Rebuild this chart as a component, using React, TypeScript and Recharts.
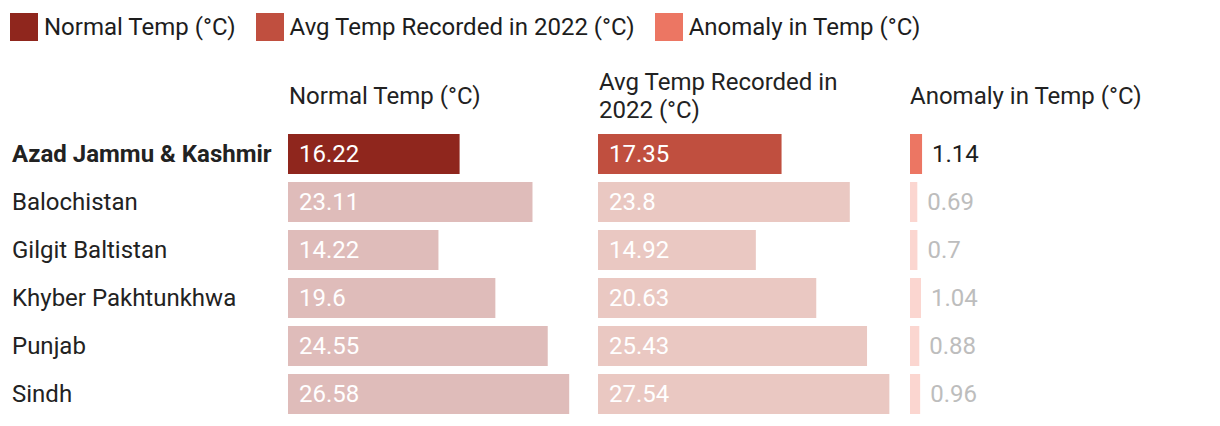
import React from "react";
import { BarChart, Bar, XAxis, YAxis, Cell, LabelList } from "recharts";

// regions, in the order they are listed
const regions = ["Azad Jammu & Kashmir", "Balochistan", "Gilgit Baltistan", "Khyber Pakhtunkhwa", "Punjab", "Sindh"];
const normalTemp = [16.22, 23.11, 14.22, 19.6, 24.55, 26.58];
const avgTemp2022 = [17.35, 23.8, 14.92, 20.63, 25.43, 27.54];
const anomalyTemp = [1.14, 0.69, 0.7, 1.04, 0.88, 0.96];
const highlighted = "Azad Jammu & Kashmir";

const seriesNames = ["Normal Temp (°C)", "Avg Temp Recorded in 2022 (°C)", "Anomaly in Temp (°C)"];
const strongColors = ["#8f261d", "#c04f3f", "#ec7663"];
const fadedColors = ["#dfbcba", "#eac8c2", "#fbd6d0"];

const FONT = "Roboto, 'Noto Sans', sans-serif";
const FS = 24;
const DOMAIN_MAX = 27.6;
const ROW_H = 48;
const TOP = 130;

const data = regions.map((name, i) => ({
  name,
  normal: normalTemp[i],
  avg: avgTemp2022[i],
  anomaly: anomalyTemp[i],
}));

const isHl = (i: number) => data[i] && data[i].name === highlighted;

const insideLabel = (props: any) => {
  const { x, y, height, value } = props;
  return (
    <text x={x + 11} y={y + height / 2} dominantBaseline="central" fill="#ffffff" fontSize={FS} fontFamily={FONT}>
      {value}
    </text>
  );
};

const outsideLabel = (props: any) => {
  const { x, y, width, height, value, index } = props;
  return (
    <text
      x={x + width + 10}
      y={y + height / 2}
      dominantBaseline="central"
      fill={isHl(index) ? "#1d1d1d" : "#bdbdbd"}
      fontSize={FS}
      fontFamily={FONT}
    >
      {value}
    </text>
  );
};

const RegionTick = (props: any) => {
  const { y, payload } = props;
  const hl = payload.value === highlighted;
  return (
    <text x={12} y={y} dominantBaseline="central" fill="#222" fontSize={FS} fontWeight={hl ? 700 : 400} fontFamily={FONT}>
      {payload.value}
    </text>
  );
};

function Column({ dataKey, colIdx, left, width, withAxis, outside }: any) {
  const axisW = withAxis ? 288 : 0;
  return (
    <div style={{ position: "absolute", left, top: TOP }}>
      <BarChart
        width={width + axisW}
        height={ROW_H * regions.length}
        data={data}
        layout="vertical"
        margin={{ top: 0, right: 0, bottom: 0, left: 0 }}
      >
        <XAxis type="number" domain={[0, DOMAIN_MAX]} hide />
        <YAxis
          type="category"
          dataKey="name"
          width={axisW}
          hide={!withAxis}
          axisLine={false}
          tickLine={false}
          tick={<RegionTick />}
        />
        <Bar dataKey={dataKey} barSize={40} isAnimationActive={false}>
          {data.map((d, i) => (
            <Cell key={d.name} fill={isHl(i) ? strongColors[colIdx] : fadedColors[colIdx]} />
          ))}
          <LabelList dataKey={dataKey} content={outside ? outsideLabel : insideLabel} />
        </Bar>
      </BarChart>
    </div>
  );
}

export default function App() {
  return (
    <div style={{ position: "relative", width: 1220, height: 426, background: "#fff", fontFamily: FONT, color: "#222" }}>
      <style>{`body{margin:0}`}</style>
      <div style={{ position: "absolute", left: 10, top: 13, display: "flex", alignItems: "center", height: 28 }}>
        {seriesNames.map((s, i) => (
          <div key={s} style={{ display: "flex", alignItems: "center", marginRight: 20 }}>
            <div style={{ width: 28, height: 28, background: strongColors[i], marginRight: 6 }} />
            <span style={{ fontSize: FS, lineHeight: "28px", color: "#1d1d1d" }}>{s}</span>
          </div>
        ))}
      </div>
      <div style={{ position: "absolute", left: 289, top: 82, fontSize: FS, lineHeight: "28px" }}>{seriesNames[0]}</div>
      <div style={{ position: "absolute", left: 599, top: 68, width: 270, fontSize: FS, lineHeight: "28px" }}>
        Avg Temp Recorded in
        <br />
        2022 (°C)
      </div>
      <div style={{ position: "absolute", left: 910, top: 82, fontSize: FS, lineHeight: "28px" }}>{seriesNames[2]}</div>
      <Column dataKey="normal" colIdx={0} left={0} width={292} withAxis />
      <Column dataKey="avg" colIdx={1} left={598} width={292} />
      <Column dataKey="anomaly" colIdx={2} left={910} width={292} outside />
    </div>
  );
}
